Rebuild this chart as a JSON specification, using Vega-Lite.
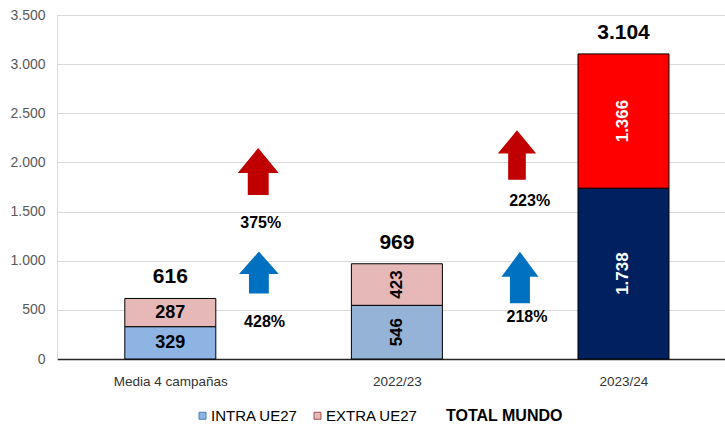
{
  "$schema": "https://vega.github.io/schema/vega-lite/v6.json",
  "width": 668,
  "height": 344,
  "autosize": {"type": "none"},
  "padding": {"left": 57, "top": 15, "right": 0, "bottom": 67},
  "config": {
    "locale": {"number": {"decimal": ",", "thousands": ".", "grouping": [3], "currency": ["", " €"]}},
    "view": {"stroke": null},
    "font": "Liberation Sans"
  },
  "datasets": {
    "barras": [
      {"periodo": "Media 4 campañas", "serie": "INTRA UE27", "valor": 329},
      {"periodo": "Media 4 campañas", "serie": "EXTRA UE27", "valor": 287},
      {"periodo": "2022/23", "serie": "INTRA UE27", "valor": 546},
      {"periodo": "2022/23", "serie": "EXTRA UE27", "valor": 423},
      {"periodo": "2023/24", "serie": "INTRA UE27", "valor": 1738},
      {"periodo": "2023/24", "serie": "EXTRA UE27", "valor": 1366}
    ],
    "variaciones": [
      {"tramo": "a", "serie": "EXTRA UE27", "variacion": 3.75, "x": 0.388, "y": 1908, "xt": 0.399, "yt": 1384},
      {"tramo": "b", "serie": "INTRA UE27", "variacion": 4.28, "x": 0.391, "y": 880, "xt": 0.416, "yt": 380},
      {"tramo": "c", "serie": "EXTRA UE27", "variacion": 2.23, "x": 1.530, "y": 2076, "xt": 1.586, "yt": 1611},
      {"tramo": "d", "serie": "INTRA UE27", "variacion": 2.18, "x": 1.543, "y": 829, "xt": 1.574, "yt": 430}
    ]
  },
  "layer": [
    {
      "data": {"name": "barras"},
      "transform": [{"calculate": "indexof(['Media 4 campañas','2022/23','2023/24'], datum.periodo)", "as": "pos"}],
      "mark": {"type": "bar", "width": 91, "stroke": "#000000", "strokeWidth": 1},
      "encoding": {
        "x": {
          "field": "pos", "type": "quantitative", "title": null,
          "scale": {"domain": [-0.5, 2.448], "nice": false, "zero": false, "padding": 0},
          "axis": {
            "values": [0, 1, 2],
            "labelExpr": "['Media 4 campañas','2022/23','2023/24'][datum.value]",
            "grid": false, "ticks": false,
            "domainColor": "#262626", "domainWidth": 1.5,
            "labelFontSize": 13.5, "labelColor": "#333333", "labelPadding": 15,
            "labelFont": "Liberation Sans"
          }
        },
        "y": {
          "field": "valor", "type": "quantitative", "stack": "zero", "title": null,
          "scale": {"domain": [0, 3500], "nice": false},
          "axis": {
            "values": [0, 500, 1000, 1500, 2000, 2500, 3000, 3500],
            "format": ",d",
            "ticks": false,
            "domainColor": "#D9D9D9", "gridColor": "#D9D9D9", "gridWidth": 1.2,
            "labelFontSize": 14, "labelColor": "#595959", "labelPadding": 12,
            "labelFont": "Liberation Sans"
          }
        },
        "order": {"field": "serie", "sort": "descending"},
        "color": {
          "condition": [
            {"test": "datum.periodo === '2023/24' && datum.serie === 'INTRA UE27'", "value": "#002060"},
            {"test": "datum.periodo === '2023/24' && datum.serie === 'EXTRA UE27'", "value": "#FF0000"},
            {"test": "datum.periodo === '2022/23' && datum.serie === 'INTRA UE27'", "value": "#95B3D7"}
          ],
          "field": "serie", "type": "nominal",
          "scale": {"domain": ["INTRA UE27", "EXTRA UE27", "TOTAL MUNDO"], "range": ["#8DB4E2", "#E6B9B8", "transparent"]},
          "legend": {
            "orient": "none", "legendX": 138, "legendY": 393,
            "direction": "horizontal", "title": null,
            "symbolType": "square", "symbolSize": 49, "symbolStrokeWidth": 1,
            "symbolStrokeColor": {"expr": "datum.value === 'INTRA UE27' ? '#4A7EBB' : datum.value === 'EXTRA UE27' ? '#A0504D' : 'transparent'"},
            "labelFontWeight": {"expr": "datum.value === 'TOTAL MUNDO' ? 'bold' : 'normal'"},
            "labelFontSize": {"expr": "datum.value === 'TOTAL MUNDO' ? 16 : 15"},
            "labelColor": "#000000", "labelFont": "Liberation Sans",
            "columnPadding": 12, "labelOffset": 1
          }
        }
      }
    },
    {
      "data": {"name": "barras"},
      "transform": [
        {"calculate": "indexof(['Media 4 campañas','2022/23','2023/24'], datum.periodo)", "as": "pos"},
        {"filter": "datum.periodo === 'Media 4 campañas'"}
      ],
      "mark": {"type": "text", "font": "Liberation Sans Narrow, Liberation Sans", "fontWeight": "bold", "fontSize": 18, "baseline": "middle", "align": "center", "color": "#000000"},
      "encoding": {
        "x": {"field": "pos", "type": "quantitative", "title": null},
        "y": {"field": "valor", "type": "quantitative", "stack": "zero", "bandPosition": 0.5, "title": null},
        "order": {"field": "serie", "sort": "descending"},
        "detail": {"field": "serie"},
        "text": {"field": "valor", "type": "quantitative", "format": ",d"}
      }
    },
    {
      "data": {"name": "barras"},
      "transform": [
        {"calculate": "indexof(['Media 4 campañas','2022/23','2023/24'], datum.periodo)", "as": "pos"},
        {"filter": "datum.periodo !== 'Media 4 campañas'"}
      ],
      "mark": {"type": "text", "font": "Liberation Sans", "fontWeight": "bold", "fontSize": 17, "baseline": "middle", "align": "center", "angle": 270},
      "encoding": {
        "x": {"field": "pos", "type": "quantitative", "title": null},
        "y": {"field": "valor", "type": "quantitative", "stack": "zero", "bandPosition": 0.5, "title": null},
        "order": {"field": "serie", "sort": "descending"},
        "detail": {"field": "serie"},
        "color": {"condition": {"test": "datum.periodo === '2023/24'", "value": "#FFFFFF"}, "value": "#000000"},
        "text": {"field": "valor", "type": "quantitative", "format": ",d"}
      }
    },
    {
      "data": {"name": "barras"},
      "transform": [
        {"aggregate": [{"op": "sum", "field": "valor", "as": "total"}], "groupby": ["periodo"]},
        {"calculate": "indexof(['Media 4 campañas','2022/23','2023/24'], datum.periodo)", "as": "pos"}
      ],
      "mark": {"type": "text", "font": "Liberation Sans Narrow, Liberation Sans", "fontWeight": "bold", "fontSize": 21, "baseline": "alphabetic", "align": "center", "dy": -15, "color": "#000000"},
      "encoding": {
        "x": {"field": "pos", "type": "quantitative", "title": null},
        "y": {"field": "total", "type": "quantitative", "title": null},
        "text": {"field": "total", "type": "quantitative", "format": ",d"}
      }
    },
    {
      "data": {"name": "variaciones"},
      "mark": {"type": "point", "filled": true, "opacity": 1, "strokeWidth": 0},
      "encoding": {
        "x": {"field": "x", "type": "quantitative", "title": null},
        "y": {"field": "y", "type": "quantitative", "title": null},
        "shape": {
          "field": "tramo", "type": "nominal", "legend": null,
          "scale": {
            "domain": ["a", "b", "c", "d"],
            "range": [
              "M0,-1.146L1,0.074L0.51,0.074L0.51,1.146L-0.51,1.146L-0.51,0.074L-1,0.074Z",
              "M0,-1.054L1,0.081L0.5,0.081L0.5,1.054L-0.5,1.054L-0.5,0.081L-1,0.081Z",
              "M0,-1.286L1,-0.072L0.46,-0.072L0.46,1.286L-0.46,1.286L-0.46,-0.072L-1,-0.072Z",
              "M0,-1.393L1,-0.036L0.54,-0.036L0.54,1.393L-0.54,1.393L-0.54,-0.036L-1,-0.036Z"
            ]
          }
        },
        "size": {
          "field": "tramo", "type": "ordinal", "legend": null,
          "scale": {"domain": ["a", "b", "c", "d"], "range": [1681, 1369, 784, 784]}
        },
        "color": {"condition": {"test": "datum.serie === 'INTRA UE27'", "value": "#0070C0"}, "value": "#C00000"}
      }
    },
    {
      "data": {"name": "variaciones"},
      "mark": {"type": "text", "font": "Liberation Sans", "fontWeight": "bold", "fontSize": 16, "baseline": "middle", "align": "center", "color": "#000000"},
      "encoding": {
        "x": {"field": "xt", "type": "quantitative", "title": null},
        "y": {"field": "yt", "type": "quantitative", "title": null},
        "text": {"field": "variacion", "type": "quantitative", "format": ".0%"}
      }
    }
  ]
}
